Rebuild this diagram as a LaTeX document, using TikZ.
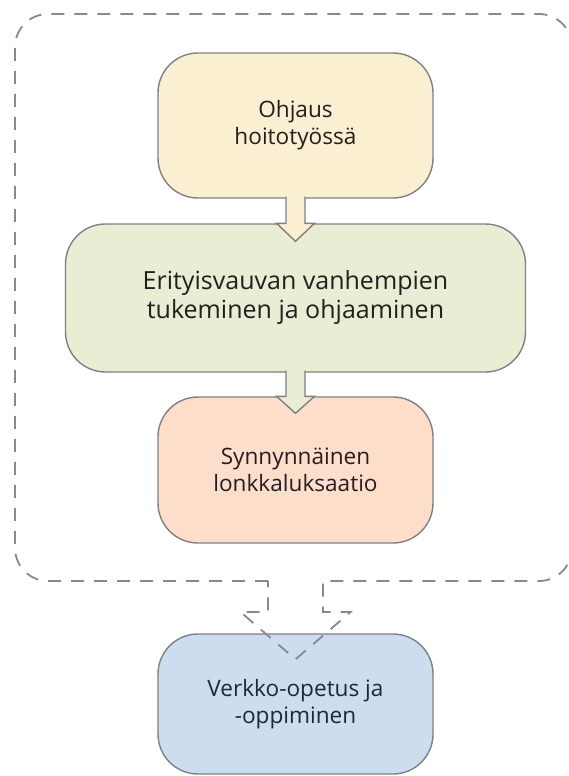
\documentclass[tikz,border=0pt]{standalone}
\usepackage{fontspec}
\setmainfont{Open Sans}
\definecolor{flowLine}{RGB}{128,128,128}
\definecolor{flowFrame}{RGB}{141,135,135}
\definecolor{flowText}{RGB}{35,31,32}
\definecolor{flowBlueText}{RGB}{30,40,56}
\definecolor{ohjausFill}{RGB}{250,240,209}
\definecolor{tukiFill}{RGB}{232,237,212}
\definecolor{lonkkaFill}{RGB}{253,222,203}
\definecolor{verkkoFill}{RGB}{204,221,240}
\begin{document}
\begin{tikzpicture}
% Flow chart, drawn on a pixel grid
\def\pxsz{0.5pt}
\providecommand{\flowLineWidth}{0.7pt}
\begin{scope}[x=\pxsz, y=-\pxsz, line join=miter,
  box/.style={draw=flowLine, line width=\flowLineWidth, rounded corners=20pt,
    align=center, text=flowText, inner sep=0pt,
    font=\fontsize{11.3}{13.5}\selectfont},
  blockarrow/.style={draw=flowLine, line width=\flowLineWidth},
  frame/.style={draw=flowFrame, line width=0.9pt, dash pattern=on 6.5pt off 5pt}]
  % Canvas
  \useasboundingbox (0,0) rectangle (568,776);
  % Boxes
  \node[box, fill=ohjausFill, minimum width=137.5pt, minimum height=72.5pt]
    (ohjaus) at (295.5,125.5) {Ohjaus\\hoitotyössä};
  \node[box, fill=tukiFill, minimum width=230pt, minimum height=74pt,
    font=\fontsize{12.5}{14.5}\selectfont]
    (tuki) at (295.5,298) {Erityisvauvan vanhempien\\tukeminen ja ohjaaminen};
  \node[box, fill=lonkkaFill, minimum width=137.5pt, minimum height=73pt]
    (lonkka) at (295.5,470) {Synnynnäinen\\lonkkaluksaatio};
  \node[box, fill=verkkoFill, minimum width=137.5pt, minimum height=70pt, text=flowBlueText]
    (verkko) at (295.5,704) {Verkko-opetus ja\\-oppiminen};
  % Block arrows (open path: fill closes it, stroke leaves the top open)
  \path[blockarrow, fill=ohjausFill]
    ([xshift=-4.75pt,yshift=1pt]ohjaus.south) -- ([xshift=-4.75pt]tuki.north)
    -- ([xshift=-9.5pt]tuki.north) -- ([yshift=-9pt]tuki.north)
    -- ([xshift=9.5pt]tuki.north) -- ([xshift=4.75pt]tuki.north)
    -- ([xshift=4.75pt,yshift=1pt]ohjaus.south);
  \path[blockarrow, fill=tukiFill]
    ([xshift=-4.75pt,yshift=1pt]tuki.south) -- ([xshift=-4.75pt]lonkka.north)
    -- ([xshift=-9.5pt]lonkka.north) -- ([yshift=-8.5pt]lonkka.north)
    -- ([xshift=9.5pt]lonkka.north) -- ([xshift=4.75pt]lonkka.north)
    -- ([xshift=4.75pt,yshift=1pt]tuki.south);
  % Dashed frame with its outlet arrow
  \coordinate (tip) at ([yshift=-13pt]verkko.north);
  \draw[frame] (268,581) [rounded corners=16.5pt] -- (15,581) -- (15,14) -- (572,14)
    -- (572,581) -- (450,581) [sharp corners] -- (323,581) -- (323,612)
    -- (350.5,612) -- (tip) -- (240.5,612) -- (268,612) -- cycle;
\end{scope}
\end{tikzpicture}
\end{document}
